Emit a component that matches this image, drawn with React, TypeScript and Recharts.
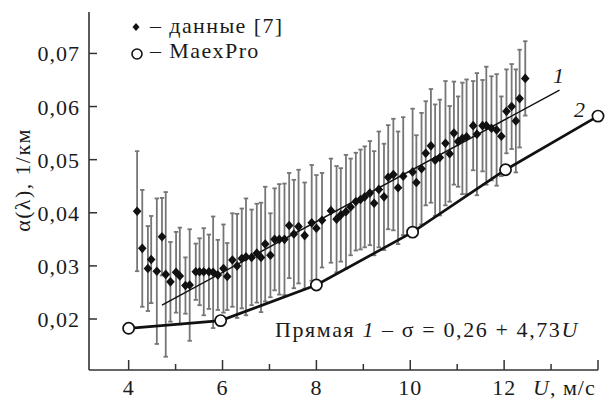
import React from 'react';
import { ScatterChart, Scatter, XAxis, YAxis, ErrorBar, Customized } from 'recharts';

// Measured data [7]: wind speed U (m/s), alpha (1/km), error half-width
const measU = [
  4.18, 4.29, 4.41, 4.48, 4.6, 4.71, 4.79, 4.89, 5.01, 5.09,
  5.21, 5.3, 5.43, 5.51, 5.6, 5.71, 5.8, 5.9, 6.02, 6.1,
  6.21, 6.31, 6.41, 6.5, 6.62, 6.73, 6.82, 6.91, 7.02, 7.11,
  7.21, 7.32, 7.42, 7.52, 7.62, 7.75, 7.9, 8.0, 8.12, 8.31,
  8.43, 8.52, 8.63, 8.73, 8.84, 8.94, 9.03, 9.14, 9.23, 9.33,
  9.44, 9.53, 9.64, 9.74, 9.85, 10.05, 10.13, 10.24, 10.33, 10.44,
  10.53, 10.63, 10.75, 10.84, 10.93, 11.02, 11.11, 11.2, 11.34, 11.42,
  11.54, 11.62, 11.73, 11.84, 11.94, 12.05, 12.16, 12.25, 12.33, 12.45,
];
const measAlpha = [
  0.0403, 0.0333, 0.0295, 0.0312, 0.029, 0.0355, 0.0284, 0.027, 0.0288, 0.0281,
  0.0263, 0.0264, 0.0289, 0.0289, 0.0289, 0.0289, 0.0288, 0.0283, 0.0295, 0.028,
  0.0311, 0.03, 0.0314, 0.0317, 0.0316, 0.0324, 0.0316, 0.0341, 0.032, 0.035,
  0.035, 0.035, 0.0376, 0.036, 0.0374, 0.0357, 0.0381, 0.0371, 0.0386, 0.0404,
  0.0388, 0.0396, 0.0402, 0.0411, 0.0421, 0.0425, 0.043, 0.0437, 0.0418, 0.0444,
  0.043, 0.0467, 0.0472, 0.0447, 0.0469, 0.0477, 0.0457, 0.0483, 0.0512, 0.0526,
  0.0499, 0.0504, 0.0531, 0.0511, 0.055, 0.0534, 0.054, 0.0543, 0.0564, 0.0548,
  0.0564, 0.0564, 0.0559, 0.0556, 0.0544, 0.0591, 0.06, 0.0573, 0.0615, 0.0653,
];
const measErr = [
  0.0113, 0.011, 0.008, 0.0082, 0.0137, 0.0073, 0.0155, 0.0075, 0.0076, 0.0091,
  0.0053, 0.0105, 0.0053, 0.0063, 0.0082, 0.007, 0.0105, 0.0066, 0.0083, 0.0063,
  0.0088, 0.0098, 0.0094, 0.011, 0.009, 0.0093, 0.0103, 0.0108, 0.0079, 0.0096,
  0.0104, 0.0105, 0.0099, 0.0102, 0.0107, 0.01, 0.0109, 0.01, 0.0089, 0.0098,
  0.01, 0.0088, 0.0107, 0.0091, 0.0092, 0.0094, 0.0095, 0.0098, 0.0098, 0.0109,
  0.01, 0.0098, 0.0105, 0.0106, 0.0111, 0.0119, 0.0089, 0.0105, 0.0098, 0.0107,
  0.0105, 0.0109, 0.0117, 0.009, 0.0097, 0.0085, 0.0105, 0.0108, 0.0084, 0.0115,
  0.0086, 0.0111, 0.0098, 0.0105, 0.0075, 0.0079, 0.008, 0.0097, 0.0092, 0.007,
];

// MaexPro model (curve 2)
const maexU = [4, 5.96, 8, 10.05, 12.03, 14];
const maexAlpha = [0.01825, 0.0197, 0.0264, 0.03635, 0.0481, 0.0582];

// Straight line 1 (regression)
const fitU = [4.71, 13.18];
const fitAlpha = [0.0226, 0.0631];

const xTicks = [4, 5, 6, 7, 8, 9, 10, 11, 12, 13, 14];
const xLabelTicks = [4, 6, 8, 10, 12];
const yTicks = [0.02, 0.03, 0.04, 0.05, 0.06, 0.07];

const measData = measU.map((u, i) => ({ x: u, y: measAlpha[i], err: measErr[i] }));
const maexData = maexU.map((u, i) => ({ x: u, y: maexAlpha[i] }));
const fitData = fitU.map((u, i) => ({ x: u, y: fitAlpha[i] }));

const FONT = '"Liberation Serif", "DejaVu Serif", serif';
const INK = '#1a1a1a';
const AXIS = '#333';

const Diamond = (props: any) => {
  const { cx, cy } = props;
  if (cx == null || cy == null) return <g />;
  return (
    <polygon
      points={`${cx},${cy - 4.8} ${cx + 4.3},${cy} ${cx},${cy + 4.8} ${cx - 4.3},${cy}`}
      fill="#111"
    />
  );
};

const OpenCircle = (props: any) => {
  const { cx, cy } = props;
  if (cx == null || cy == null) return <g />;
  return <circle cx={cx} cy={cy} r={5.6} fill="#fff" stroke="#111" strokeWidth={1.7} />;
};

const NoShape = () => <g />;

const XTick = (props: any) => {
  const { x, y, payload } = props;
  const v = payload.value;
  const major = v % 2 === 0;
  return (
    <g>
      <line x1={x} x2={x} y1={y} y2={y - (major ? 10 : 6)} stroke={AXIS} strokeWidth={1.5} />
      {xLabelTicks.includes(v) && (
        <text x={x} y={y + 25} textAnchor="middle" fontFamily={FONT} fontSize={22} letterSpacing={1} fill={INK}>
          {v}
        </text>
      )}
    </g>
  );
};

const YTick = (props: any) => {
  const { x, y, payload } = props;
  const label = Number(payload.value).toFixed(2).replace('.', ',');
  return (
    <g>
      <line x1={x} x2={x + 8} y1={y} y2={y} stroke={AXIS} strokeWidth={1.5} />
      <text x={x - 9} y={y + 8} textAnchor="end" fontFamily={FONT} fontSize={22} letterSpacing={1} fill={INK}>
        {label}
      </text>
    </g>
  );
};

const Annotations = () => (
  <g fontFamily={FONT} fill={INK} fontSize={22} letterSpacing={1}>
    {/* legend */}
    <polygon points="128,15 131.5,19 128,23 124.5,19" fill="#111" />
    <text x={142} y={25} letterSpacing={1.4}>– данные [7]</text>
    <circle cx={129} cy={46} r={5} fill="#fff" stroke="#111" strokeWidth={1.6} />
    <text x={142} y={50} letterSpacing={1.4}>– MaexPro</text>
    {/* curve labels */}
    <text x={551} y={75} textAnchor="middle" fontStyle="italic">1</text>
    <text x={572} y={109} textAnchor="middle" fontStyle="italic">2</text>
    {/* equation */}
    <text x={267} y={329} letterSpacing={1.6}>
      Прямая <tspan fontStyle="italic">1</tspan> – σ = 0,26 + 4,73<tspan fontStyle="italic">U</tspan>
    </text>
    {/* axis titles */}
    <text x={525} y={387}>
      <tspan fontStyle="italic">U</tspan>, м/с
    </text>
    <text x={22} y={172} textAnchor="middle" transform="rotate(-90, 22, 172)" letterSpacing={1.4}>
      α(λ), 1/км
    </text>
  </g>
);

export default function App() {
  return (
    <ScatterChart width={605} height={392} margin={{ top: 4, right: 15, bottom: 0, left: 11 }}>
      <XAxis
        type="number"
        dataKey="x"
        domain={[3.155, 14]}
        ticks={xTicks}
        interval={0}
        tickSize={0}
        tickMargin={0}
        tickLine={false}
        axisLine={{ stroke: AXIS, strokeWidth: 1.6 }}
        tick={<XTick />}
        height={30}
      />
      <YAxis
        type="number"
        dataKey="y"
        domain={[0.0104, 0.0778]}
        ticks={yTicks}
        interval={0}
        tickSize={0}
        tickMargin={0}
        tickLine={false}
        axisLine={{ stroke: AXIS, strokeWidth: 1.6 }}
        tick={<YTick />}
        width={70}
      />
      <Scatter data={measData} shape={<Diamond />} isAnimationActive={false}>
        <ErrorBar dataKey="err" direction="y" width={2.2} stroke="#767676" strokeWidth={1.8} isAnimationActive={false} />
      </Scatter>
      <Scatter
        data={fitData}
        shape={<NoShape />}
        line={{ stroke: '#111', strokeWidth: 1.4 }}
        isAnimationActive={false}
      />
      <Scatter
        data={maexData}
        shape={<OpenCircle />}
        line={{ stroke: '#111', strokeWidth: 2.7 }}
        isAnimationActive={false}
      />
      <Customized component={<Annotations />} />
    </ScatterChart>
  );
}
